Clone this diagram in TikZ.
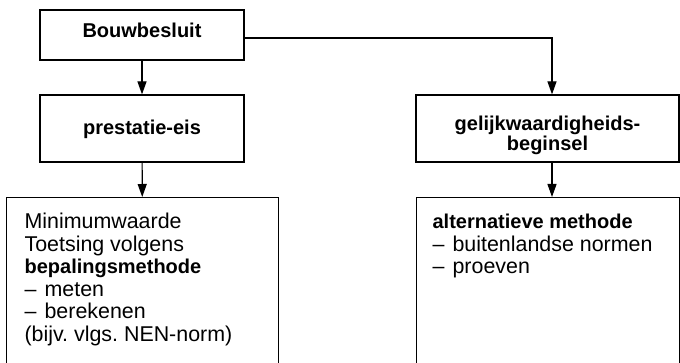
\documentclass[tikz,border=0pt]{standalone}
\usepackage{fontspec}
\setmainfont{Liberation Sans}
\usetikzlibrary{arrows.meta}

\newcommand{\streep}{\makebox[10pt][l]{–}}
\newcommand{\vet}[1]{{\fontsize{10}{11.25}\selectfont\bfseries #1}}

\begin{document}
\begin{tikzpicture}[x=0.5pt, y=-0.5pt, line width=0.6pt,
  kop/.style={draw, minimum width=102pt, font=\fontsize{10}{12}\selectfont\bfseries},
  vak/.style={draw, anchor=north west, minimum height=100pt, inner sep=0pt},
  lijst/.style={anchor=north west, inner sep=0pt, align=left, font=\fontsize{10.7}{11.25}\selectfont},
  pijl/.style={-{Triangle[length=6.5pt,width=4.5pt]}}]
\clip (0,0) rectangle (680,363);

\node[kop, minimum height=25pt, text height=7.5pt, text depth=5.2pt] (bouw) at (142,35) {Bouwbesluit};
\node[kop, minimum height=33.5pt, text height=7.3pt, text depth=0.8pt] (prestatie) at (142,128.5) {prestatie-eis};
\node[kop, minimum width=131.5pt, minimum height=33.5pt, align=center, font=\fontsize{10}{9.2}\selectfont\bfseries] (gelijk) at (547.5,128.5) {\rule{0pt}{14pt}gelijkwaardigheids-\\beginsel};

\node[vak, minimum width=136pt] (links) at (6,197) {};
\node[vak, minimum width=131.5pt] (rechts) at (416,197) {};

\node[lijst] (linkstekst) at (24,212) {\rule{0pt}{8pt}Minimumwaarde\\Toetsing volgens\\\vet{bepalingsmethode}\\\streep meten\\\streep berekenen\\(bijv.\ vlgs.\ NEN-norm)};
\node[lijst] (rechtstekst) at (432,212) {\rule{0pt}{8pt}\vet{alternatieve methode}\\\streep buitenlandse normen\\\streep proeven};

\draw[pijl] (bouw) -- (prestatie);
\draw[pijl] (prestatie) -- (links);
\draw[pijl] ([yshift=-1.5pt]bouw.east) -| ([xshift=2.25pt]gelijk.north);
\draw[pijl] ([xshift=2.25pt]gelijk.south) -- ([xshift=2.25pt]gelijk.south |- rechts.north);
\end{tikzpicture}
\end{document}
